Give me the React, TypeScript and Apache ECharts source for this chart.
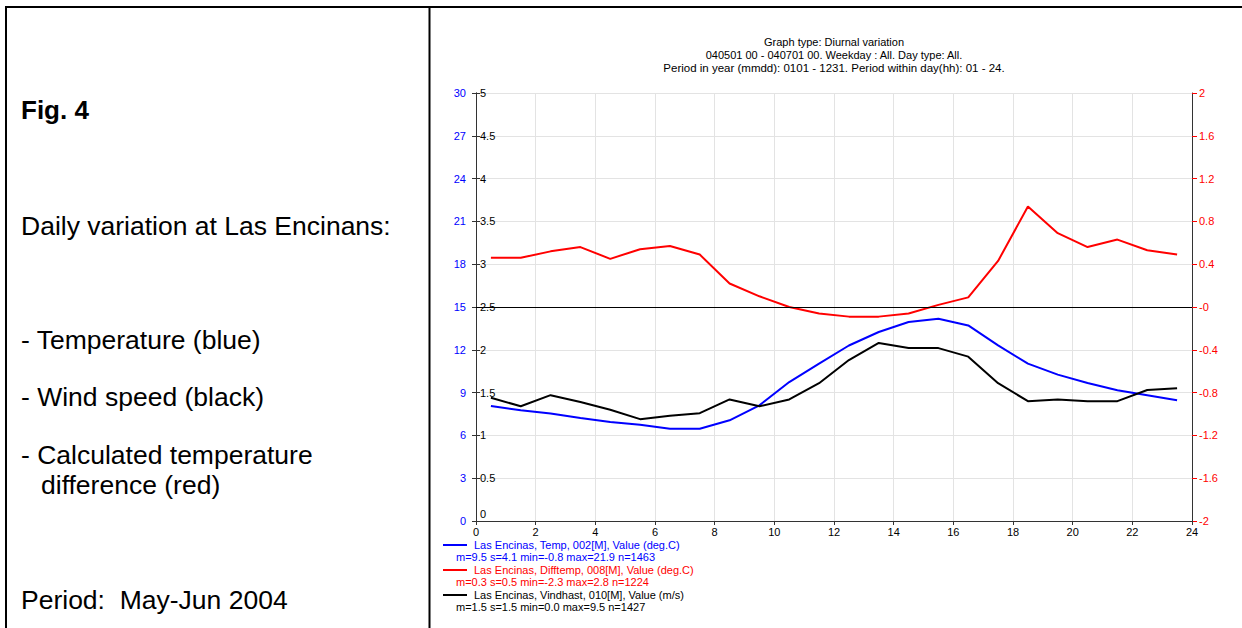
import React, { useEffect, useRef } from 'react';
import * as echarts from 'echarts';

// Hours (mid-hour points)
const hours = [0.5, 1.5, 2.5, 3.5, 4.5, 5.5, 6.5, 7.5, 8.5, 9.5, 10.5, 11.5, 12.5, 13.5, 14.5, 15.5, 16.5, 17.5, 18.5, 19.5, 20.5, 21.5, 22.5, 23.5];
// Temperature (deg.C) - blue, left outer axis
const temperature = [8.06, 7.76, 7.53, 7.22, 6.94, 6.75, 6.47, 6.47, 7.06, 8.11, 9.74, 11.03, 12.3, 13.25, 13.95, 14.18, 13.71, 12.31, 11.03, 10.26, 9.67, 9.16, 8.81, 8.46];
// Temperature difference (deg.C) - red, right axis
const tempDiff = [0.46, 0.46, 0.52, 0.56, 0.45, 0.54, 0.57, 0.49, 0.22, 0.1, 0.0, -0.06, -0.09, -0.09, -0.06, 0.02, 0.09, 0.43, 0.94, 0.69, 0.56, 0.63, 0.53, 0.49];
// Wind speed (m/s) - black, left inner axis
const windSpeed = [1.44, 1.34, 1.47, 1.39, 1.3, 1.19, 1.23, 1.26, 1.42, 1.34, 1.42, 1.61, 1.88, 2.08, 2.02, 2.02, 1.92, 1.61, 1.4, 1.42, 1.4, 1.4, 1.53, 1.55];

const titleLines = [
  'Graph type: Diurnal variation',
  '040501 00 - 040701 00. Weekday : All. Day type: All.',
  'Period in year (mmdd): 0101 - 1231. Period within day(hh): 01 - 24.',
];
const legendNames = [
  'Las Encinas, Temp, 002[M], Value (deg.C)',
  'Las Encinas, Difftemp, 008[M], Value (deg.C)',
  'Las Encinas, Vindhast, 010[M], Value (m/s)',
];
const legendStats = [
  'm=9.5 s=4.1 min=-0.8 max=21.9 n=1463',
  'm=0.3 s=0.5 min=-2.3 max=2.8 n=1224',
  'm=1.5 s=1.5 min=0.0 max=9.5 n=1427',
];
const sideTexts = [
  'Daily variation at Las Encinans:',
  '- Temperature (blue)',
  '- Wind speed (black)',
  '- Calculated temperature',
  'difference (red)',
  'Period:  May-Jun 2004',
];
const figLabel = 'Fig. 4';

const BLUE = '#0000ff';
const RED = '#ff0000';
const BLACK = '#000000';
const FONT = '"Liberation Sans", Arial, Helvetica, sans-serif';

export default function App() {
  const ref = useRef<HTMLDivElement>(null);
  useEffect(() => {
    if (!ref.current) return;
    const chart = echarts.init(ref.current, undefined, { renderer: 'svg' });
    const colors = [BLUE, RED, BLACK];
    const legendY = [545, 570, 595];
    const graphic: any[] = [
      { type: 'line', shape: { x1: 5, y1: 7, x2: 1242, y2: 7 }, style: { stroke: '#000', lineWidth: 2 } },
      { type: 'line', shape: { x1: 6, y1: 6, x2: 6, y2: 628 }, style: { stroke: '#000', lineWidth: 2 } },
      { type: 'line', shape: { x1: 429.5, y1: 6, x2: 429.5, y2: 628 }, style: { stroke: '#000', lineWidth: 2 } },
      {
        type: 'text', x: 21, y: 110,
        style: { text: figLabel, font: 'bold 26px ' + FONT, fill: '#000', textVerticalAlign: 'middle', verticalAlign: 'middle' },
      },
    ];
    const sideX = [21, 21, 21, 21, 41, 21];
    const sideY = [226, 340, 397, 455, 485, 600];
    sideTexts.forEach((t, i) => {
      graphic.push({
        type: 'text', x: sideX[i], y: sideY[i],
        style: { text: t, font: '26.5px ' + FONT, fill: '#000', textVerticalAlign: 'middle', verticalAlign: 'middle' },
      });
    });
    const titleY = [42, 55, 68];
    const titleSize = [11, 11, 11.5];
    titleLines.forEach((t, i) => {
      graphic.push({
        type: 'text', x: 834, y: titleY[i],
        style: { text: t, font: titleSize[i] + 'px ' + FONT, fill: '#000', textAlign: 'center', align: 'center', textVerticalAlign: 'middle', verticalAlign: 'middle' },
      });
    });
    legendNames.forEach((t, i) => {
      graphic.push({ type: 'line', shape: { x1: 443, y1: legendY[i], x2: 467, y2: legendY[i] }, style: { stroke: colors[i], lineWidth: 2 } });
      graphic.push({
        type: 'text', x: 474, y: legendY[i],
        style: { text: t, font: '11px ' + FONT, fill: colors[i], textVerticalAlign: 'middle', verticalAlign: 'middle' },
      });
      graphic.push({
        type: 'text', x: 456, y: legendY[i] + 12,
        style: { text: legendStats[i], font: '11px ' + FONT, fill: colors[i], textVerticalAlign: 'middle', verticalAlign: 'middle' },
      });
    });

    const axisLineStyle = { color: '#333', width: 1 };
    const option: any = {
      animation: false,
      backgroundColor: '#fff',
      textStyle: { fontFamily: FONT },
      grid: { left: 476, top: 93, width: 716, height: 428, containLabel: false },
      graphic,
      xAxis: {
        type: 'value', min: 0, max: 24, interval: 2,
        axisLine: { show: true, lineStyle: axisLineStyle },
        axisTick: { show: true, length: 4, lineStyle: axisLineStyle },
        axisLabel: { color: '#000', fontSize: 11, margin: 5 },
        splitLine: { show: true, lineStyle: { color: '#e3e3e3', width: 1 } },
      },
      yAxis: [
        {
          type: 'value', position: 'left', min: 0, max: 30, interval: 3,
          axisLine: { show: true, onZero: false, lineStyle: axisLineStyle },
          axisTick: { show: true, length: 4, lineStyle: axisLineStyle },
          axisLabel: { color: BLUE, fontSize: 11, margin: 10 },
          splitLine: { show: true, lineStyle: { color: '#e3e3e3', width: 1 } },
        },
        {
          type: 'value', position: 'left', offset: 0, min: 0, max: 5, interval: 0.5,
          axisLine: { show: true, onZero: false, lineStyle: axisLineStyle },
          axisTick: { show: true, inside: true, length: 4, lineStyle: axisLineStyle },
          axisLabel: {
            inside: true, color: '#000', fontSize: 11, margin: 4,
            formatter: (v: number) => (v === 0 ? '{z|0}' : String(v)),
            rich: { z: { color: '#000', fontSize: 11, padding: [0, 0, 14, 0] } },
          },
          splitLine: { show: false },
        },
        {
          type: 'value', position: 'right', min: -2, max: 2, interval: 0.4,
          axisLine: { show: true, onZero: false, lineStyle: axisLineStyle },
          axisTick: { show: true, length: 5, lineStyle: { color: RED } },
          axisLabel: {
            color: RED, fontSize: 11, margin: 7,
            formatter: (v: number) => {
              const r = Math.round(v * 10) / 10;
              return r === 0 ? '-0' : String(r);
            },
          },
          splitLine: { show: false },
        },
      ],
      series: [
        {
          name: legendNames[0], type: 'line', yAxisIndex: 0, showSymbol: false, symbol: 'none',
          data: hours.map((h, i) => [h, temperature[i]]),
          lineStyle: { color: BLUE, width: 2 }, itemStyle: { color: BLUE },
        },
        {
          name: legendNames[1], type: 'line', yAxisIndex: 2, showSymbol: false, symbol: 'none',
          data: hours.map((h, i) => [h, tempDiff[i]]),
          lineStyle: { color: RED, width: 2 }, itemStyle: { color: RED },
          markLine: {
            silent: true, symbol: 'none', label: { show: false },
            lineStyle: { color: '#000', width: 1, type: 'solid' },
            data: [{ yAxis: 0 }],
          },
        },
        {
          name: legendNames[2], type: 'line', yAxisIndex: 1, showSymbol: false, symbol: 'none',
          data: hours.map((h, i) => [h, windSpeed[i]]),
          lineStyle: { color: BLACK, width: 2 }, itemStyle: { color: BLACK },
        },
      ],
    };
    chart.setOption(option);
    return () => chart.dispose();
  }, []);
  return (
    <div
      ref={ref}
      style={{ position: 'fixed', left: 0, top: 0, width: '1242px', height: '628px', background: '#fff' }}
    />
  );
}
